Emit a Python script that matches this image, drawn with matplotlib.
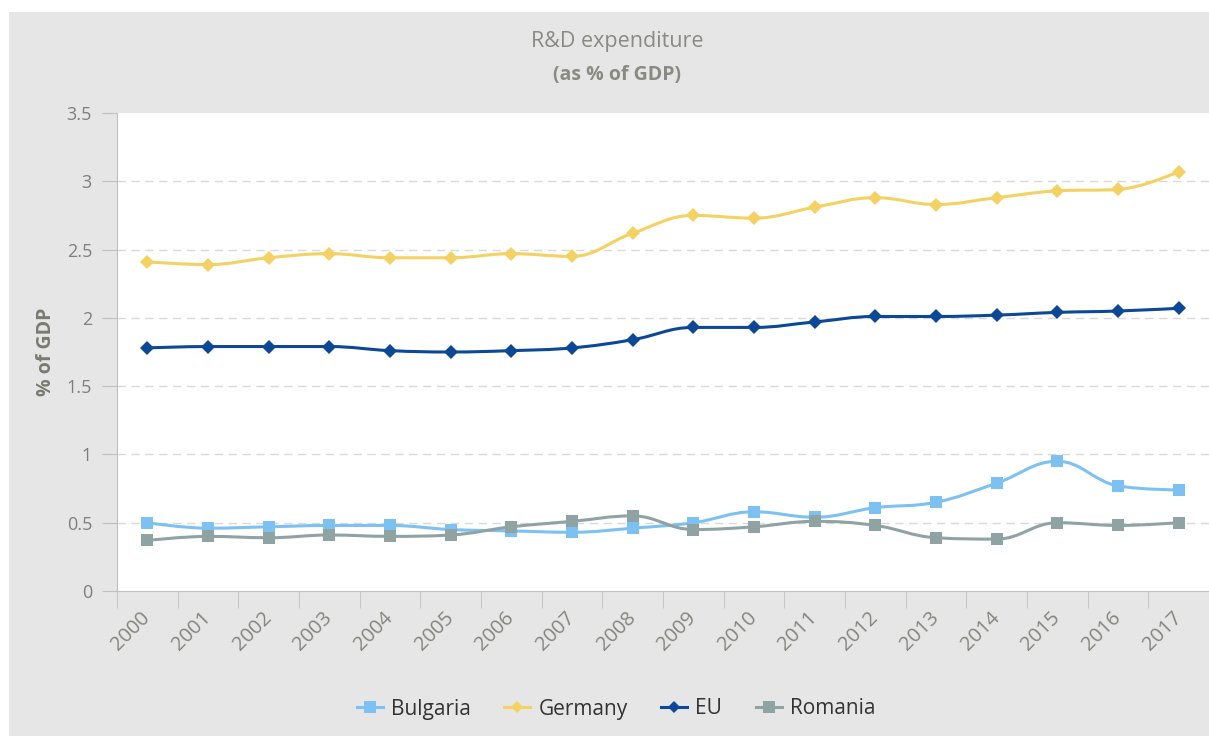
import numpy as np
import matplotlib
matplotlib.use("Agg")
import matplotlib.pyplot as plt
import matplotlib.transforms as mtransforms
from matplotlib.path import Path
from matplotlib.patches import PathPatch, Rectangle
from matplotlib.lines import Line2D

plt.rcParams['font.family'] = ['Open Sans', 'DejaVu Sans']

# データ
years = [str(y) for y in range(2000, 2018)]
bulgaria = [0.50, 0.46, 0.47, 0.48, 0.48, 0.45, 0.44, 0.43, 0.46, 0.50,
            0.58, 0.54, 0.61, 0.65, 0.79, 0.95, 0.77, 0.74]
germany = [2.41, 2.39, 2.44, 2.47, 2.44, 2.44, 2.47, 2.45, 2.62, 2.75,
           2.73, 2.81, 2.88, 2.83, 2.88, 2.93, 2.94, 3.07]
eu = [1.78, 1.79, 1.79, 1.79, 1.76, 1.75, 1.76, 1.78, 1.84, 1.93,
      1.93, 1.97, 2.01, 2.01, 2.02, 2.04, 2.05, 2.07]
romania = [0.37, 0.40, 0.39, 0.41, 0.40, 0.41, 0.47, 0.51, 0.55, 0.45,
           0.47, 0.51, 0.48, 0.39, 0.38, 0.50, 0.48, 0.50]

series = [
    ("Bulgaria", bulgaria, "#7dc1f3", "s", 9),
    ("Germany", germany, "#f4d163", "D", 7),
    ("EU", eu, "#0c4895", "D", 7),
    ("Romania", romania, "#8fa3a2", "s", 9),
]


# スプライン（Highcharts風のベジェ曲線）
def spline_path(xs, ys, smoothing=1.5):
    n = len(xs)
    denom = smoothing + 1
    right = [None] * n
    left = [None] * n
    for i in range(n):
        x, y = xs[i], ys[i]
        if 0 < i < n - 1:
            lx, ly = xs[i - 1], ys[i - 1]
            nx, ny = xs[i + 1], ys[i + 1]
            lcx = (smoothing * x + lx) / denom
            lcy = (smoothing * y + ly) / denom
            rcx = (smoothing * x + nx) / denom
            rcy = (smoothing * y + ny) / denom
            corr = 0.0
            if rcx != lcx:
                corr = (rcy - lcy) * (rcx - x) / (rcx - lcx) + y - rcy
            lcy += corr
            rcy += corr
            if lcy > ly and lcy > y:
                lcy = max(ly, y)
                rcy = 2 * y - lcy
            elif lcy < ly and lcy < y:
                lcy = min(ly, y)
                rcy = 2 * y - lcy
            if rcy > ny and rcy > y:
                rcy = max(ny, y)
                lcy = 2 * y - rcy
            elif rcy < ny and rcy < y:
                rcy = min(ny, y)
                lcy = 2 * y - rcy
            left[i] = (lcx, lcy)
            right[i] = (rcx, rcy)
        else:
            left[i] = (x, y)
            right[i] = (x, y)
    verts = [(xs[0], ys[0])]
    codes = [Path.MOVETO]
    for i in range(1, n):
        verts += [right[i - 1], left[i], (xs[i], ys[i])]
        codes += [Path.CURVE4] * 3
    return Path(verts, codes)


W, H = 1209, 736
fig = plt.figure(figsize=(W / 100, H / 100), dpi=100, facecolor="white")

# 背景の灰色
fig.patches.append(Rectangle((9 / W, 0), 1 - 9 / W, 1 - 12 / H,
                             transform=fig.transFigure, facecolor="#e6e6e6",
                             edgecolor="none", zorder=-10))

ax = fig.add_axes([117 / W, (H - 591) / H, (W - 117) / W, (591 - 113) / H])
ax.set_facecolor("white")

x = np.arange(len(years))
for name, vals, color, mk, ms in series:
    p = spline_path(x, vals)
    ax.add_patch(PathPatch(p, facecolor="none", edgecolor=color, lw=2.2,
                           zorder=3, capstyle="round", joinstyle="round"))
    ax.plot(x, vals, linestyle="none", marker=mk, ms=ms, color=color,
            markeredgewidth=0, zorder=4)

ax.set_xlim(-0.5, len(years) - 0.5)
ax.set_ylim(0, 3.5)
ax.set_yticks(np.arange(0, 3.51, 0.5))
ax.set_yticklabels(["0", "0.5", "1", "1.5", "2", "2.5", "3", "3.5"])
for v in np.arange(0.5, 3.01, 0.5):
    ax.axhline(v, color="#d9d9d9", lw=1, dashes=(6, 4), zorder=1)

ax.set_xticks(x)
ax.set_xticklabels(years, rotation=45, ha="right", va="center",
                   rotation_mode="anchor")
ax.set_xticks(np.arange(-0.5, len(years), 1), minor=True)
# ラベルを少し左にずらす
shift = mtransforms.ScaledTranslation(-3 / 100, 0, fig.dpi_scale_trans)
for lbl in ax.get_xticklabels():
    lbl.set_transform(lbl.get_transform() + shift)

for s in ["top", "right"]:
    ax.spines[s].set_visible(False)
ax.spines["left"].set_color("#c0c0c0")
ax.spines["bottom"].set_color("#c0c0c0")
ax.tick_params(axis="y", length=11, color="#c0c0c0", labelcolor="#7f7f7f",
               labelsize=13, pad=7)
ax.tick_params(axis="x", which="major", length=0, labelcolor="#858580",
               labelsize=14.5, pad=17)
ax.tick_params(axis="x", which="minor", length=12, color="#c0c0c0")

ax.set_ylabel("% of GDP", fontsize=14, fontweight="bold", color="#7a7a72",
              labelpad=8)

fig.text(617 / W, 1 - 42 / H, "R&D expenditure", ha="center", va="center",
         fontsize=15.5, color="#8a8a84")
fig.text(617 / W, 1 - 75 / H, "(as % of GDP)", ha="center", va="center",
         fontsize=14, fontweight="bold", color="#8a8a84")

handles = [Line2D([], [], color=c, lw=2.2, marker=m, ms=ms * 0.9,
                  markeredgewidth=0) for _, _, c, m, ms in series]
fig.legend(handles, [s[0] for s in series], loc="center",
           bbox_to_anchor=(616 / W, 1 - 709 / H), ncol=4, frameon=False,
           fontsize=15, handlelength=1.25, columnspacing=1.6, handletextpad=0.4,
           labelcolor="#333333")

fig.savefig("out.png", dpi=100)
